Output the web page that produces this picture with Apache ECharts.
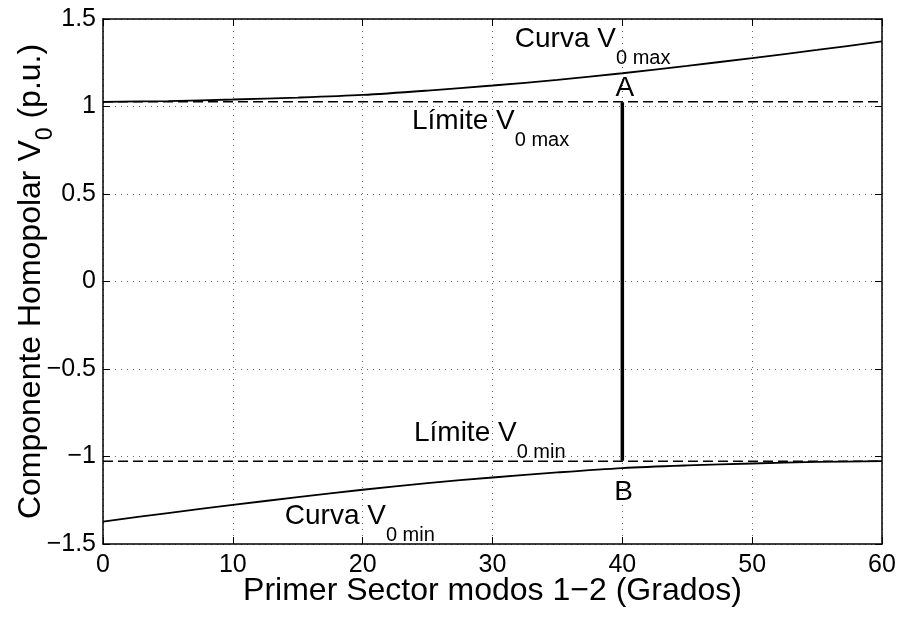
<!DOCTYPE html>
<html><head><meta charset="utf-8">
<script src="https://cdn.jsdelivr.net/npm/echarts@6/dist/echarts.min.js"></script>
<style>html,body{margin:0;padding:0;background:#fff}#c{width:901px;height:617px}</style>
</head><body><div id="c"></div>
<script>
// ---- data ----
const angles   = [0, 5, 10, 15, 20, 25, 30, 35, 40, 45, 50, 55, 60];
const curveMax = [1.027, 1.031, 1.040, 1.051, 1.066, 1.091, 1.120, 1.152, 1.190, 1.232, 1.277, 1.323, 1.372];
const curveMin = [-1.372, -1.323, -1.277, -1.232, -1.190, -1.152, -1.120, -1.091, -1.066, -1.051, -1.040, -1.031, -1.027];
const limitMax = 1.027;
const limitMin = -1.027;
const segmentX = 40;
const segmentTop = 1.024;
const segmentBottom = -1.024;
const xTicks = [0, 10, 20, 30, 40, 50, 60];
const yTicks = [-1.5, -1, -0.5, 0, 0.5, 1, 1.5];
// annotations: text, sub-text, anchor in data units
const annoText = ['Curva V', 'Límite V', 'Límite V', 'Curva V', 'A', 'B'];
const annoSub  = ['0 max', '0 max', '0 min', '0 min', '', ''];
const annoX    = [31.72, 23.8, 23.95, 14.0, 40.2, 40.1];
const annoY    = [1.465, 0.995, -0.789, -1.262, 1.186, -1.125];

const FONT = '"Liberation Sans", Arial, Helvetica, sans-serif';
const minus = v => String(v).replace('-', '\u2212');

const chart = echarts.init(document.getElementById('c'), null, {renderer: 'canvas'});

const rich = {
  m: {fontSize: 28, fontFamily: FONT, color: '#000', lineHeight: 30, verticalAlign: 'top'},
  s: {fontSize: 20, fontFamily: FONT, color: '#000', lineHeight: 20, verticalAlign: 'top', padding: [23, 0, 0, 0]}
};

const annoData = annoText.map((t, i) => ({
  value: [annoX[i], annoY[i]],
  label: {
    formatter: annoSub[i] ? '{m|' + t + '}{s|' + annoSub[i] + '}' : '{m|' + t + '}',
    align: annoSub[i] ? 'left' : 'center'
  }
}));

const baseX = {
  type: 'value', min: 0, max: 60, interval: 10,
  axisLine: {show: true, onZero: false, lineStyle: {color: '#000', width: 1.5}},
  axisTick: {show: true, inside: true, length: 7, lineStyle: {color: '#000', width: 1}},
  splitLine: {show: false}
};
const baseY = {
  type: 'value', min: -1.5, max: 1.5, interval: 0.5,
  axisLine: {show: true, onZero: false, lineStyle: {color: '#000', width: 1.5}},
  axisTick: {show: true, inside: true, length: 7, lineStyle: {color: '#000', width: 1}},
  splitLine: {show: false}
};

chart.setOption({
  animation: false,
  backgroundColor: '#fff',
  grid: {left: 103, right: 19, top: 19, bottom: 73, containLabel: false, outerBoundsMode: 'none'},
  xAxis: [
    Object.assign({}, baseX, {
      position: 'bottom',
      axisLabel: {show: true, margin: 9, fontSize: 25, fontFamily: FONT, color: '#000', formatter: v => minus(v)},
      splitLine: {show: true, lineStyle: {color: '#666', width: 1, type: [1, 5]}},
      name: 'Primer Sector modos 1\u22122 (Grados)',
      nameLocation: 'middle', nameGap: 31, nameMoveOverlap: false,
      nameTextStyle: {fontSize: 32, fontFamily: FONT, color: '#000', verticalAlign: 'top'}
    }),
    Object.assign({}, baseX, {position: 'top', axisLabel: {show: false}})
  ],
  yAxis: [
    Object.assign({}, baseY, {
      position: 'left',
      axisLabel: {show: true, margin: 7, fontSize: 25, fontFamily: FONT, color: '#000', formatter: v => minus(v)},
      splitLine: {show: true, lineStyle: {color: '#666', width: 1, type: [1, 5]}},
      name: '{m|Componente Homopolar V}{s|0}{m| (p.u.)}',
      nameLocation: 'middle', nameGap: 55, nameRotate: 90, nameMoveOverlap: false,
      nameTextStyle: {
        fontSize: 32, fontFamily: FONT, color: '#000',
        rich: {
          m: {fontSize: 32, fontFamily: FONT, color: '#000', lineHeight: 33, verticalAlign: 'top'},
          s: {fontSize: 23, fontFamily: FONT, color: '#000', lineHeight: 23, verticalAlign: 'top', padding: [19, 0, 0, 0]}
        }
      }
    }),
    Object.assign({}, baseY, {position: 'right', axisLabel: {show: false}})
  ],
  series: [
    {
      name: 'Curva V0 max', type: 'line', xAxisIndex: 0, yAxisIndex: 0,
      data: angles.map((a, i) => [a, curveMax[i]]),
      smooth: 0.3, symbol: 'none',
      lineStyle: {color: '#000', width: 1.8}
    },
    {
      name: 'Curva V0 min', type: 'line', xAxisIndex: 0, yAxisIndex: 0,
      data: angles.map((a, i) => [a, curveMin[i]]),
      smooth: 0.3, symbol: 'none',
      lineStyle: {color: '#000', width: 1.8}
    },
    {
      name: 'Límite V0 max', type: 'line',
      data: [[xTicks[0], limitMax], [xTicks[xTicks.length - 1], limitMax]],
      symbol: 'none', lineStyle: {color: '#000', width: 1.5, type: [10, 5]}
    },
    {
      name: 'Límite V0 min', type: 'line',
      data: [[xTicks[0], limitMin], [xTicks[xTicks.length - 1], limitMin]],
      symbol: 'none', lineStyle: {color: '#000', width: 1.5, type: [10, 5]}
    },
    {
      name: 'AB', type: 'line',
      data: [[segmentX, segmentTop], [segmentX, segmentBottom]],
      symbol: 'none', lineStyle: {color: '#000', width: 3.5}
    },
    {
      name: 'labels', type: 'scatter', symbolSize: 0, silent: true,
      itemStyle: {opacity: 1, color: '#000'},
      data: annoData,
      label: {
        show: true, position: [0, 0], verticalAlign: 'top', opacity: 1,
        fontFamily: FONT, color: '#000', rich: rich
      },
      z: 10
    }
  ]
});
</script>
</body></html>
